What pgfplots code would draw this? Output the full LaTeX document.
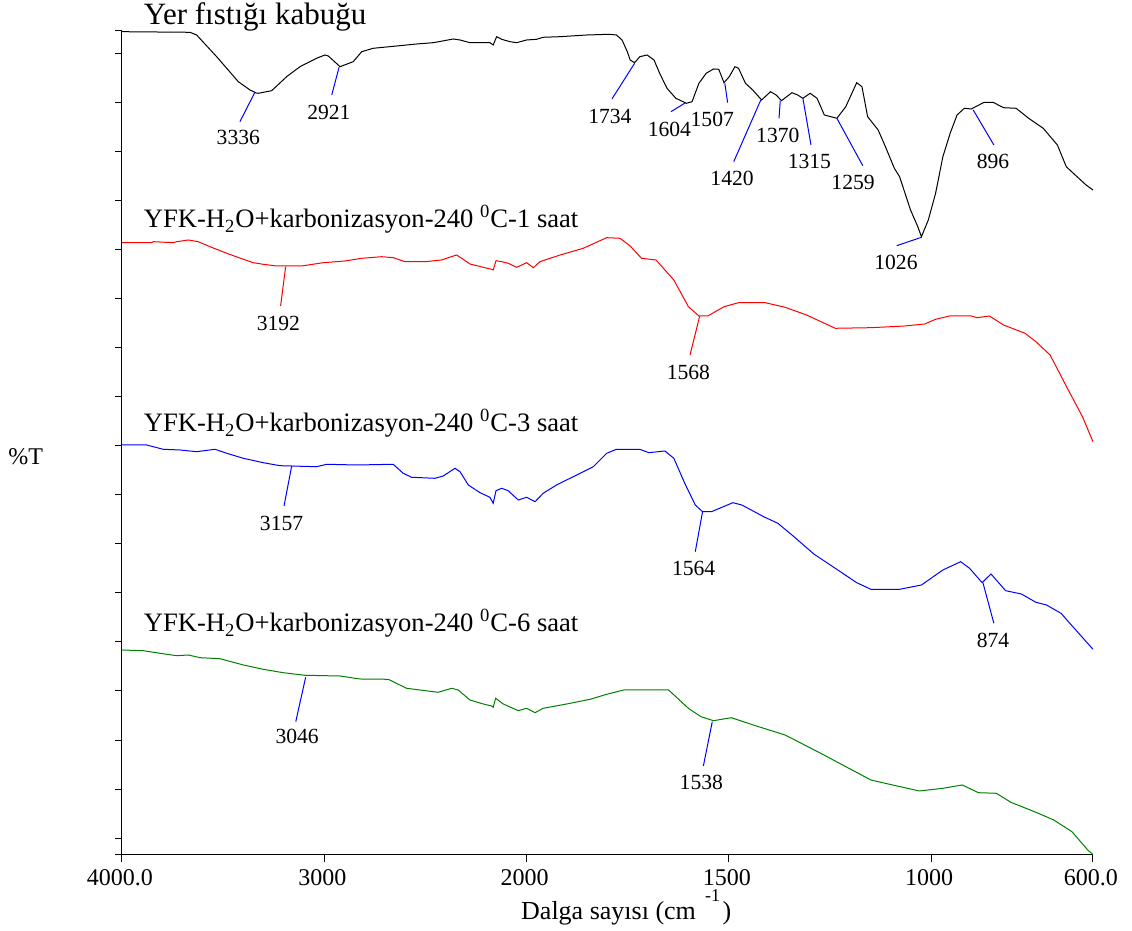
\documentclass[border=0pt]{standalone}
\usepackage{pgfplots}
\pgfplotsset{compat=1.18}
\usepackage{fontspec}
\setmainfont{Liberation Serif}
\definecolor{sgreen}{RGB}{0,128,0}
\begin{document}
\begin{tikzpicture}
\useasboundingbox (-61pt,-38pt) rectangle (505pt,427.5pt);
\begin{axis}[
  at={(0,0)}, anchor=south west,
  scale only axis, width=485.5pt, height=412pt,
  x dir=reverse,
  x coord trafo/.code={\pgfmathparse{#1>2000 ? 2000+(#1-2000)/2 : #1}},
  xmin=600, xmax=4000, ymin=0, ymax=824,
  axis x line*=bottom, axis y line*=left,
  axis line style={line width=0.5pt},
  tick align=outside, major tick length=3.5pt,
  tick style={line width=0.5pt, black},
  xtick={4000,3000,2000,1500,1000,600},
  xticklabels={4000.0,3000,2000,1500,1000,600.0},
  xticklabel style={font=\fontsize{12}{14}\selectfont, xshift=-1pt},
  ytick={0,16.8,65.9,114.9,164.0,213.0,262.1,311.1,360.2,409.2,458.3,507.4,556.4,605.5,654.5,703.6,752.6,801.7,824},
  yticklabels={},
  clip=false,
  every axis plot/.append style={line width=0.5pt},
]
\addplot[black] coordinates {(4000,823.3) (3664,822.7) (3631,820) (3532,798.3) (3425,773.3) (3367,765) (3336,762) (3326,761.7) (3260,764.3) (3186,778.3) (3120,788.3) (3038,796.7) (2997,800) (2980,799) (2922,788.3) (2857,793.3) (2815,803.3) (2758,806.7) (2642,809) (2543,811) (2461,812.3) (2362,816) (2329,815) (2280,812.3) (2181,812.3) (2165,810) (2148,818.3) (2123,815.7) (2082,813.3) (2049,812.3) (2000,815) (1975,815.7) (1959,817.7) (1917,818.3) (1851,820) (1795,820.7) (1778,820) (1773,818.3) (1764,815) (1751,803.3) (1744,795) (1733,792.3) (1720,798.3) (1702,800) (1685,795) (1671,781.7) (1653,766.7) (1631,756.7) (1605,751.7) (1591,753.3) (1574,771.7) (1556,781.7) (1538,786) (1525,785.7) (1512,772.3) (1499,778.3) (1485,788.3) (1476,786.7) (1459,771.7) (1441,765) (1419,755) (1397,763.3) (1383,760) (1370,754.3) (1344,762.3) (1330,760) (1317,756.7) (1299,761.7) (1282,756.7) (1264,740) (1233,736.7) (1211,748.3) (1184,772.3) (1171,768.3) (1157,738.3) (1131,725) (1113,708.3) (1091,686.7) (1078,678.3) (1051,645) (1033,628.3) (1024,618.3) (1007,635) (989,661.7) (971,698.3) (953,721.7) (936,740) (918,746.7) (901,746) (869,752.7) (847,752.7) (821,747.3) (790,746.7) (759,736.7) (723,726.7) (688,710) (666,688.3) (644,680) (617,670) (600,665)};
\addplot[red] coordinates {(4000,612.3) (3853,612.3) (3845,613.3) (3746,612.3) (3730,613.3) (3672,615) (3623,613.3) (3565,608.3) (3482,601.7) (3400,595.7) (3351,592.3) (3302,590.7) (3235,589) (3112,589) (3005,592.3) (2898,594) (2815,596.7) (2716,598.3) (2659,597.3) (2601,593.3) (2502,593.3) (2420,595) (2346,600) (2321,596.7) (2280,591) (2206,587.3) (2173,585.7) (2165,585) (2151,594.3) (2123,593.3) (2091,591.7) (2049,587.7) (2000,592.3) (1983,587.3) (1967,593.3) (1917,600) (1860,606.7) (1802,617.3) (1769,616.7) (1744,609) (1716,596.7) (1680,595) (1636,575) (1600,548.3) (1574,539) (1552,539) (1512,548.3) (1476,552.3) (1410,552.3) (1361,547.7) (1308,540) (1237,526.7) (1149,527.3) (1065,529) (1016,531) (989,535.7) (954,539) (901,539) (887,537.3) (856,539) (821,530) (768,521.7) (741,513.3) (706,500) (661,465) (626,438.3) (600,413.3)};
\addplot[blue] coordinates {(4000,410) (3878,410) (3796,405.7) (3713,405) (3631,403.3) (3540,405.7) (3482,401.7) (3400,396.7) (3302,392.3) (3219,389.3) (3038,388.3) (2988,390.7) (2840,390) (2659,390.7) (2610,381.7) (2568,377.7) (2453,376.7) (2412,379) (2354,386.7) (2329,383.3) (2288,370) (2230,362.3) (2181,357.7) (2165,351.7) (2151,364.3) (2123,366.7) (2091,364.3) (2041,355) (2000,357.7) (1979,353.3) (1959,361.7) (1926,370) (1876,380) (1835,388.3) (1802,401.7) (1778,405.7) (1720,405.7) (1698,402.3) (1658,404) (1636,396.7) (1609,371.7) (1583,350) (1565,343.3) (1543,343.3) (1490,352.3) (1468,350) (1414,338.3) (1379,331.7) (1344,320) (1290,301) (1237,286.7) (1184,272.3) (1149,265.7) (1078,265.7) (1024,270) (971,285) (927,293.3) (905,286.7) (874,272.3) (852,281) (816,264.3) (777,261) (741,252.7) (715,250) (679,241.7) (644,225.7) (600,205.7)};
\addplot[sgreen] coordinates {(4000,205) (3895,204.3) (3812,201.7) (3730,199.3) (3672,200) (3614,197.3) (3516,196.3) (3400,190) (3302,185.7) (3203,182.3) (3095,179.7) (2922,179) (2824,176) (2684,175.7) (2593,166.7) (2527,165) (2437,162.7) (2370,166.7) (2338,165) (2280,155) (2214,151) (2173,149) (2165,147.7) (2153,156.7) (2115,151) (2041,144.3) (2000,146.7) (1979,142.3) (1959,146.7) (1901,151) (1843,155.7) (1802,160.7) (1760,165) (1649,165) (1600,146.7) (1569,138.3) (1538,134.3) (1494,137.3) (1432,129) (1361,120) (1273,101.7) (1149,75) (1095,70) (1029,64) (971,66.7) (923,70) (883,62.3) (839,61.7) (803,52.7) (741,42.7) (697,35) (652,23.3) (613,5) (600,0.5)};

% series titles
\begin{scope}[every node/.style={anchor=base west, inner sep=0pt, font=\fontsize{13.3}{15}\selectfont}]
\node[font=\fontsize{15.5}{17}\selectfont] at (axis cs:3894,830) {Yer fıstığı kabuğu};
\node at (axis cs:3894,627.3) {YFK-H\textsubscript{2}O+karbonizasyon-240 \textsuperscript{0}C-1 saat};
\node at (axis cs:3894,423.3) {YFK-H\textsubscript{2}O+karbonizasyon-240 \textsuperscript{0}C-3 saat};
\node at (axis cs:3894,223.3) {YFK-H\textsubscript{2}O+karbonizasyon-240 \textsuperscript{0}C-6 saat};
\end{scope}

% peak annotations
\begin{scope}[every node/.style={anchor=center, inner sep=0pt, font=\fontsize{10.8}{12}\selectfont}]
\draw[blue,line width=0.5pt] (axis cs:3343,762.7) -- (axis cs:3417,733.3);
\node at (axis cs:3425,717.7) {3336};
\draw[blue,line width=0.5pt] (axis cs:2927,787.7) -- (axis cs:2963,760);
\node at (axis cs:2977,742.7) {2921};
\draw[blue,line width=0.5pt] (axis cs:1733,791.7) -- (axis cs:1789,756);
\node at (axis cs:1794,738.3) {1734};
\draw[blue,line width=0.5pt] (axis cs:1607,752.3) -- (axis cs:1643,743.3);
\node at (axis cs:1647,725.7) {1604};
\draw[blue,line width=0.5pt] (axis cs:1510,771.7) -- (axis cs:1503,752.3);
\node at (axis cs:1541,735.7) {1507};
\draw[blue,line width=0.5pt] (axis cs:1421,755) -- (axis cs:1488,693.3);
\node at (axis cs:1492,676.7) {1420};
\draw[blue,line width=0.5pt] (axis cs:1373,754.3) -- (axis cs:1376,736.7);
\node at (axis cs:1379,719.3) {1370};
\draw[blue,line width=0.5pt] (axis cs:1317,756.7) -- (axis cs:1297,710);
\node at (axis cs:1301,694) {1315};
\draw[blue,line width=0.5pt] (axis cs:1233,736.7) -- (axis cs:1169,689.3);
\node at (axis cs:1193,672.7) {1259};
\draw[blue,line width=0.5pt] (axis cs:1024,617.7) -- (axis cs:1085,609.3);
\node at (axis cs:1087,592.7) {1026};
\draw[blue,line width=0.5pt] (axis cs:896,745) -- (axis cs:845,710);
\node at (axis cs:847,693.3) {896};
\draw[red,line width=0.5pt] (axis cs:3191,588.3) -- (axis cs:3216,549);
\node at (axis cs:3227,531.7) {3192};
\draw[red,line width=0.5pt] (axis cs:1572,539) -- (axis cs:1596,500);
\node at (axis cs:1600,482.3) {1568};
\draw[blue,line width=0.5pt] (axis cs:3161,389) -- (axis cs:3199,349);
\node at (axis cs:3211,331.7) {3157};
\draw[blue,line width=0.5pt] (axis cs:1565,343.3) -- (axis cs:1583,303.3);
\node at (axis cs:1587,286.7) {1564};
\draw[blue,line width=0.5pt] (axis cs:872,272.3) -- (axis cs:845,231.7);
\node at (axis cs:847,215) {874};
\draw[blue,line width=0.5pt] (axis cs:3092,177.7) -- (axis cs:3141,133.3);
\node at (axis cs:3134,118.3) {3046};
\draw[blue,line width=0.5pt] (axis cs:1541,133.3) -- (axis cs:1563,89);
\node at (axis cs:1568,72.3) {1538};
\end{scope}
\end{axis}
\node[anchor=base west, inner sep=0pt, font=\fontsize{13}{15}\selectfont] at (199.4pt,-32.5pt) {Dalga sayısı (cm\hspace{0.35em}\raisebox{9pt}{\fontsize{9}{10}\selectfont -1}\hspace{0.1em})};
\node[anchor=base west, inner sep=0pt, font=\fontsize{12}{14}\selectfont] at (-57pt,195pt) {\%T};
\end{tikzpicture}
\end{document}
